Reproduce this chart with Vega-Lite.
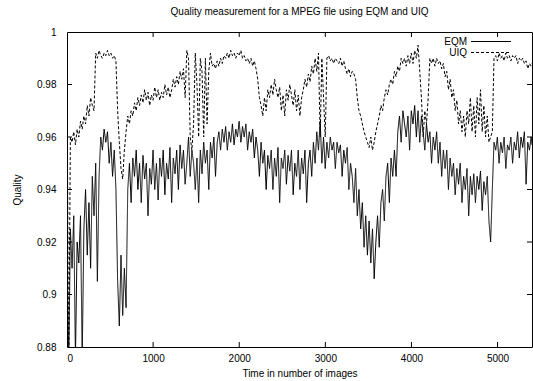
{
  "$schema": "https://vega.github.io/schema/vega-lite/v6.json",
  "autosize": {"type": "none"},
  "padding": {"left": 67, "top": 32, "right": 1, "bottom": 34},
  "width": 465,
  "height": 315,
  "title": {"text": "Quality measurement for a MPEG file using EQM and UIQ", "fontSize": 10, "fontWeight": "normal", "font": "Liberation Sans", "color": "black", "offset": 10, "anchor": "middle", "frame": "group"},
  "datasets": {
    "xticks": [{"v":1000,"from":0.88,"to":0.8819},{"v":2000,"from":0.88,"to":0.8819},{"v":3000,"from":0.88,"to":0.8819},{"v":4000,"from":0.88,"to":0.8819},{"v":5000,"from":0.88,"to":0.8819},{"v":1000,"from":1,"to":0.9981},{"v":2000,"from":1,"to":0.9981},{"v":3000,"from":1,"to":0.9981},{"v":4000,"from":1,"to":0.9981},{"v":5000,"from":1,"to":0.9981}],
    "yticks": [{"q":0.9,"from":0,"to":58},{"q":0.92,"from":0,"to":58},{"q":0.94,"from":0,"to":58},{"q":0.96,"from":0,"to":58},{"q":0.98,"from":0,"to":58},{"q":0.9,"from":5400,"to":5342},{"q":0.92,"from":5400,"to":5342},{"q":0.94,"from":5400,"to":5342},{"q":0.96,"from":5400,"to":5342},{"q":0.98,"from":5400,"to":5342}],
    "quality": [
{"t":0,"EQM":0.915,"UIQ":0.985},{"t":19.6,"EQM":0.87,"UIQ":0.87},{"t":39.2,"EQM":0.925,"UIQ":0.96},{"t":58.8,"EQM":0.91,"UIQ":0.958},{"t":78.4,"EQM":0.93,"UIQ":0.962},{"t":98,"EQM":0.875,"UIQ":0.957},{"t":117.6,"EQM":0.92,"UIQ":0.963},{"t":137.2,"EQM":0.912,"UIQ":0.96},{"t":156.8,"EQM":0.93,"UIQ":0.966},{"t":176.4,"EQM":0.875,"UIQ":0.963},
{"t":196,"EQM":0.925,"UIQ":0.968},{"t":215.6,"EQM":0.94,"UIQ":0.965},{"t":235.2,"EQM":0.915,"UIQ":0.972},{"t":254.8,"EQM":0.935,"UIQ":0.968},{"t":274.4,"EQM":0.91,"UIQ":0.975},{"t":294,"EQM":0.945,"UIQ":0.972},{"t":313.6,"EQM":0.93,"UIQ":0.97},{"t":333.2,"EQM":0.95,"UIQ":0.992},{"t":352.8,"EQM":0.905,"UIQ":0.99},{"t":372.4,"EQM":0.945,"UIQ":0.993},
{"t":392,"EQM":0.96,"UIQ":0.991},{"t":411.6,"EQM":0.955,"UIQ":0.99},{"t":431.2,"EQM":0.963,"UIQ":0.992},{"t":450.8,"EQM":0.958,"UIQ":0.991},{"t":470.4,"EQM":0.962,"UIQ":0.993},{"t":490,"EQM":0.95,"UIQ":0.991},{"t":509.6,"EQM":0.958,"UIQ":0.992},{"t":529.2,"EQM":0.945,"UIQ":0.99},{"t":548.8,"EQM":0.955,"UIQ":0.991},{"t":568.4,"EQM":0.94,"UIQ":0.989},
{"t":588,"EQM":0.905,"UIQ":0.97},{"t":607.6,"EQM":0.888,"UIQ":0.958},{"t":627.2,"EQM":0.915,"UIQ":0.948},{"t":646.8,"EQM":0.892,"UIQ":0.944},{"t":666.4,"EQM":0.91,"UIQ":0.955},{"t":686,"EQM":0.895,"UIQ":0.962},{"t":705.6,"EQM":0.94,"UIQ":0.968},{"t":725.2,"EQM":0.95,"UIQ":0.965},{"t":744.8,"EQM":0.935,"UIQ":0.97},{"t":764.4,"EQM":0.952,"UIQ":0.968},
{"t":784,"EQM":0.945,"UIQ":0.973},{"t":803.6,"EQM":0.955,"UIQ":0.97},{"t":823.2,"EQM":0.94,"UIQ":0.975},{"t":842.8,"EQM":0.95,"UIQ":0.972},{"t":862.4,"EQM":0.935,"UIQ":0.976},{"t":882,"EQM":0.953,"UIQ":0.973},{"t":901.6,"EQM":0.944,"UIQ":0.978},{"t":921.2,"EQM":0.95,"UIQ":0.974},{"t":940.8,"EQM":0.93,"UIQ":0.977},{"t":960.4,"EQM":0.948,"UIQ":0.972},
{"t":980,"EQM":0.942,"UIQ":0.976},{"t":999.6,"EQM":0.955,"UIQ":0.974},{"t":1019.2,"EQM":0.94,"UIQ":0.979},{"t":1038.8,"EQM":0.95,"UIQ":0.975},{"t":1058.4,"EQM":0.936,"UIQ":0.978},{"t":1078,"EQM":0.952,"UIQ":0.974},{"t":1097.6,"EQM":0.945,"UIQ":0.977},{"t":1117.2,"EQM":0.955,"UIQ":0.975},{"t":1136.8,"EQM":0.938,"UIQ":0.98},{"t":1156.4,"EQM":0.95,"UIQ":0.976},
{"t":1176,"EQM":0.944,"UIQ":0.979},{"t":1195.6,"EQM":0.956,"UIQ":0.975},{"t":1215.2,"EQM":0.935,"UIQ":0.978},{"t":1234.8,"EQM":0.952,"UIQ":0.982},{"t":1254.4,"EQM":0.946,"UIQ":0.979},{"t":1274,"EQM":0.955,"UIQ":0.983},{"t":1293.6,"EQM":0.94,"UIQ":0.98},{"t":1313.2,"EQM":0.957,"UIQ":0.985},{"t":1332.8,"EQM":0.948,"UIQ":0.982},{"t":1352.4,"EQM":0.955,"UIQ":0.986},
{"t":1372,"EQM":0.942,"UIQ":0.975},{"t":1391.6,"EQM":0.95,"UIQ":0.993},{"t":1411.2,"EQM":0.96,"UIQ":0.99},{"t":1430.8,"EQM":0.945,"UIQ":0.96},{"t":1450.4,"EQM":0.955,"UIQ":0.955},{"t":1470,"EQM":0.95,"UIQ":0.965},{"t":1489.6,"EQM":0.94,"UIQ":0.992},{"t":1509.2,"EQM":0.952,"UIQ":0.98},{"t":1528.8,"EQM":0.935,"UIQ":0.96},{"t":1548.4,"EQM":0.955,"UIQ":0.99},
{"t":1568,"EQM":0.946,"UIQ":0.985},{"t":1587.6,"EQM":0.958,"UIQ":0.96},{"t":1607.2,"EQM":0.95,"UIQ":0.99},{"t":1626.8,"EQM":0.955,"UIQ":0.965},{"t":1646.4,"EQM":0.94,"UIQ":0.985},{"t":1666,"EQM":0.958,"UIQ":0.992},{"t":1685.6,"EQM":0.952,"UIQ":0.987},{"t":1705.2,"EQM":0.96,"UIQ":0.988},{"t":1724.8,"EQM":0.945,"UIQ":0.986},{"t":1744.4,"EQM":0.958,"UIQ":0.989},
{"t":1764,"EQM":0.962,"UIQ":0.987},{"t":1783.6,"EQM":0.955,"UIQ":0.99},{"t":1803.2,"EQM":0.963,"UIQ":0.988},{"t":1822.8,"EQM":0.958,"UIQ":0.991},{"t":1842.4,"EQM":0.964,"UIQ":0.99},{"t":1862,"EQM":0.955,"UIQ":0.992},{"t":1881.6,"EQM":0.962,"UIQ":0.99},{"t":1901.2,"EQM":0.958,"UIQ":0.993},{"t":1920.8,"EQM":0.965,"UIQ":0.991},{"t":1940.4,"EQM":0.957,"UIQ":0.992},
{"t":1960,"EQM":0.963,"UIQ":0.99},{"t":1979.6,"EQM":0.96,"UIQ":0.992},{"t":1999.2,"EQM":0.966,"UIQ":0.991},{"t":2018.8,"EQM":0.958,"UIQ":0.993},{"t":2038.4,"EQM":0.964,"UIQ":0.99},{"t":2058,"EQM":0.96,"UIQ":0.991},{"t":2077.6,"EQM":0.965,"UIQ":0.989},{"t":2097.2,"EQM":0.955,"UIQ":0.99},{"t":2116.8,"EQM":0.962,"UIQ":0.988},{"t":2136.4,"EQM":0.958,"UIQ":0.99},
{"t":2156,"EQM":0.963,"UIQ":0.987},{"t":2175.6,"EQM":0.952,"UIQ":0.989},{"t":2195.2,"EQM":0.96,"UIQ":0.986},{"t":2214.8,"EQM":0.955,"UIQ":0.982},{"t":2234.4,"EQM":0.945,"UIQ":0.975},{"t":2254,"EQM":0.958,"UIQ":0.972},{"t":2273.6,"EQM":0.95,"UIQ":0.968},{"t":2293.2,"EQM":0.955,"UIQ":0.975},{"t":2312.8,"EQM":0.94,"UIQ":0.97},{"t":2332.4,"EQM":0.953,"UIQ":0.978},
{"t":2352,"EQM":0.948,"UIQ":0.975},{"t":2371.6,"EQM":0.955,"UIQ":0.98},{"t":2391.2,"EQM":0.94,"UIQ":0.976},{"t":2410.8,"EQM":0.952,"UIQ":0.982},{"t":2430.4,"EQM":0.945,"UIQ":0.978},{"t":2450,"EQM":0.956,"UIQ":0.975},{"t":2469.6,"EQM":0.935,"UIQ":0.979},{"t":2489.2,"EQM":0.952,"UIQ":0.97},{"t":2508.8,"EQM":0.948,"UIQ":0.976},{"t":2528.4,"EQM":0.955,"UIQ":0.968},
{"t":2548,"EQM":0.942,"UIQ":0.978},{"t":2567.6,"EQM":0.953,"UIQ":0.974},{"t":2587.2,"EQM":0.947,"UIQ":0.98},{"t":2606.8,"EQM":0.955,"UIQ":0.976},{"t":2626.4,"EQM":0.938,"UIQ":0.972},{"t":2646,"EQM":0.95,"UIQ":0.978},{"t":2665.6,"EQM":0.945,"UIQ":0.97},{"t":2685.2,"EQM":0.955,"UIQ":0.976},{"t":2704.8,"EQM":0.94,"UIQ":0.968},{"t":2724.4,"EQM":0.952,"UIQ":0.975},
{"t":2744,"EQM":0.946,"UIQ":0.978},{"t":2763.6,"EQM":0.955,"UIQ":0.982},{"t":2783.2,"EQM":0.935,"UIQ":0.979},{"t":2802.8,"EQM":0.95,"UIQ":0.984},{"t":2822.4,"EQM":0.955,"UIQ":0.981},{"t":2842,"EQM":0.945,"UIQ":0.987},{"t":2861.6,"EQM":0.958,"UIQ":0.984},{"t":2881.2,"EQM":0.95,"UIQ":0.99},{"t":2900.8,"EQM":0.962,"UIQ":0.985},{"t":2920.4,"EQM":0.955,"UIQ":0.992},
{"t":2940,"EQM":0.966,"UIQ":0.96},{"t":2959.6,"EQM":0.95,"UIQ":0.99},{"t":2979.2,"EQM":0.96,"UIQ":0.975},{"t":2998.8,"EQM":0.948,"UIQ":0.96},{"t":3018.4,"EQM":0.958,"UIQ":0.99},{"t":3038,"EQM":0.952,"UIQ":0.991},{"t":3057.6,"EQM":0.96,"UIQ":0.989},{"t":3077.2,"EQM":0.955,"UIQ":0.99},{"t":3096.8,"EQM":0.958,"UIQ":0.988},{"t":3116.4,"EQM":0.948,"UIQ":0.99},
{"t":3136,"EQM":0.958,"UIQ":0.989},{"t":3155.6,"EQM":0.954,"UIQ":0.988},{"t":3175.2,"EQM":0.957,"UIQ":0.99},{"t":3194.8,"EQM":0.945,"UIQ":0.987},{"t":3214.4,"EQM":0.955,"UIQ":0.989},{"t":3234,"EQM":0.95,"UIQ":0.986},{"t":3253.6,"EQM":0.956,"UIQ":0.984},{"t":3273.2,"EQM":0.94,"UIQ":0.986},{"t":3292.8,"EQM":0.95,"UIQ":0.983},{"t":3312.4,"EQM":0.945,"UIQ":0.985},
{"t":3332,"EQM":0.935,"UIQ":0.984},{"t":3351.6,"EQM":0.948,"UIQ":0.982},{"t":3371.2,"EQM":0.93,"UIQ":0.975},{"t":3390.8,"EQM":0.94,"UIQ":0.97},{"t":3410.4,"EQM":0.925,"UIQ":0.968},{"t":3430,"EQM":0.935,"UIQ":0.965},{"t":3449.6,"EQM":0.918,"UIQ":0.962},{"t":3469.2,"EQM":0.93,"UIQ":0.96},{"t":3488.8,"EQM":0.915,"UIQ":0.958},{"t":3508.4,"EQM":0.928,"UIQ":0.956},
{"t":3528,"EQM":0.912,"UIQ":0.96},{"t":3547.6,"EQM":0.925,"UIQ":0.955},{"t":3567.2,"EQM":0.906,"UIQ":0.958},{"t":3586.8,"EQM":0.92,"UIQ":0.962},{"t":3606.4,"EQM":0.93,"UIQ":0.965},{"t":3626,"EQM":0.918,"UIQ":0.968},{"t":3645.6,"EQM":0.935,"UIQ":0.972},{"t":3665.2,"EQM":0.94,"UIQ":0.97},{"t":3684.8,"EQM":0.928,"UIQ":0.975},{"t":3704.4,"EQM":0.945,"UIQ":0.978},
{"t":3724,"EQM":0.95,"UIQ":0.976},{"t":3743.6,"EQM":0.935,"UIQ":0.98},{"t":3763.2,"EQM":0.952,"UIQ":0.982},{"t":3782.8,"EQM":0.945,"UIQ":0.98},{"t":3802.4,"EQM":0.955,"UIQ":0.985},{"t":3822,"EQM":0.945,"UIQ":0.983},{"t":3841.6,"EQM":0.962,"UIQ":0.987},{"t":3861.2,"EQM":0.968,"UIQ":0.985},{"t":3880.8,"EQM":0.958,"UIQ":0.99},{"t":3900.4,"EQM":0.97,"UIQ":0.988},
{"t":3920,"EQM":0.965,"UIQ":0.99},{"t":3939.6,"EQM":0.96,"UIQ":0.987},{"t":3959.2,"EQM":0.968,"UIQ":0.991},{"t":3978.8,"EQM":0.955,"UIQ":0.988},{"t":3998.4,"EQM":0.97,"UIQ":0.992},{"t":4018,"EQM":0.965,"UIQ":0.988},{"t":4037.6,"EQM":0.972,"UIQ":0.993},{"t":4057.2,"EQM":0.96,"UIQ":0.99},{"t":4076.8,"EQM":0.97,"UIQ":0.995},{"t":4096.4,"EQM":0.958,"UIQ":0.985},
{"t":4116,"EQM":0.968,"UIQ":0.975},{"t":4135.6,"EQM":0.962,"UIQ":0.96},{"t":4155.2,"EQM":0.955,"UIQ":0.97},{"t":4174.8,"EQM":0.965,"UIQ":0.965},{"t":4194.4,"EQM":0.958,"UIQ":0.975},{"t":4214,"EQM":0.962,"UIQ":0.99},{"t":4233.6,"EQM":0.95,"UIQ":0.988},{"t":4253.2,"EQM":0.96,"UIQ":0.99},{"t":4272.8,"EQM":0.955,"UIQ":0.987},{"t":4292.4,"EQM":0.962,"UIQ":0.99},
{"t":4312,"EQM":0.95,"UIQ":0.988},{"t":4331.6,"EQM":0.958,"UIQ":0.989},{"t":4351.2,"EQM":0.945,"UIQ":0.986},{"t":4370.8,"EQM":0.955,"UIQ":0.988},{"t":4390.4,"EQM":0.948,"UIQ":0.983},{"t":4410,"EQM":0.955,"UIQ":0.985},{"t":4429.6,"EQM":0.94,"UIQ":0.978},{"t":4449.2,"EQM":0.952,"UIQ":0.982},{"t":4468.8,"EQM":0.945,"UIQ":0.975},{"t":4488.4,"EQM":0.95,"UIQ":0.978},
{"t":4508,"EQM":0.938,"UIQ":0.97},{"t":4527.6,"EQM":0.948,"UIQ":0.974},{"t":4547.2,"EQM":0.942,"UIQ":0.965},{"t":4566.8,"EQM":0.95,"UIQ":0.97},{"t":4586.4,"EQM":0.935,"UIQ":0.962},{"t":4606,"EQM":0.945,"UIQ":0.968},{"t":4625.6,"EQM":0.94,"UIQ":0.96},{"t":4645.2,"EQM":0.948,"UIQ":0.97},{"t":4664.8,"EQM":0.93,"UIQ":0.965},{"t":4684.4,"EQM":0.945,"UIQ":0.975},
{"t":4704,"EQM":0.938,"UIQ":0.962},{"t":4723.6,"EQM":0.946,"UIQ":0.972},{"t":4743.2,"EQM":0.935,"UIQ":0.96},{"t":4762.8,"EQM":0.945,"UIQ":0.975},{"t":4782.4,"EQM":0.94,"UIQ":0.965},{"t":4802,"EQM":0.947,"UIQ":0.978},{"t":4821.6,"EQM":0.932,"UIQ":0.962},{"t":4841.2,"EQM":0.943,"UIQ":0.972},{"t":4860.8,"EQM":0.938,"UIQ":0.96},{"t":4880.4,"EQM":0.945,"UIQ":0.968},
{"t":4900,"EQM":0.928,"UIQ":0.958},{"t":4919.6,"EQM":0.92,"UIQ":0.96},{"t":4939.2,"EQM":0.94,"UIQ":0.962},{"t":4958.8,"EQM":0.958,"UIQ":0.99},{"t":4978.4,"EQM":0.955,"UIQ":0.991},{"t":4998,"EQM":0.96,"UIQ":0.989},{"t":5017.6,"EQM":0.95,"UIQ":0.992},{"t":5037.2,"EQM":0.958,"UIQ":0.99},{"t":5056.8,"EQM":0.954,"UIQ":0.991},{"t":5076.4,"EQM":0.96,"UIQ":0.989},
{"t":5096,"EQM":0.948,"UIQ":0.992},{"t":5115.6,"EQM":0.957,"UIQ":0.99},{"t":5135.2,"EQM":0.955,"UIQ":0.991},{"t":5154.8,"EQM":0.96,"UIQ":0.989},{"t":5174.4,"EQM":0.95,"UIQ":0.991},{"t":5194,"EQM":0.958,"UIQ":0.99},{"t":5213.6,"EQM":0.955,"UIQ":0.991},{"t":5233.2,"EQM":0.962,"UIQ":0.988},{"t":5252.8,"EQM":0.952,"UIQ":0.99},{"t":5272.4,"EQM":0.96,"UIQ":0.989},
{"t":5292,"EQM":0.956,"UIQ":0.99},{"t":5311.6,"EQM":0.962,"UIQ":0.988},{"t":5331.2,"EQM":0.942,"UIQ":0.989},{"t":5350.8,"EQM":0.958,"UIQ":0.986},{"t":5370.4,"EQM":0.955,"UIQ":0.988},{"t":5390,"EQM":0.96,"UIQ":0.987},{"t":5400,"EQM":0.957,"UIQ":0.988}
    ]
  },
  "encoding": {
    "x": {"type": "quantitative", "scale": {"domain": [0, 5400], "nice": false, "zero": false},
          "axis": {"values": [0, 1000, 2000, 3000, 4000, 5000], "title": "Time in number of images", "format": "d", "orient": "bottom", "ticks": false, "labelPadding": 6, "titlePadding": 5}},
    "y": {"type": "quantitative", "scale": {"domain": [0.88, 1], "nice": false, "zero": false},
          "axis": {"values": [0.88, 0.9, 0.92, 0.94, 0.96, 0.98, 1], "title": "Quality", "format": ".2~f", "orient": "left", "ticks": false, "labelPadding": 11, "titlePadding": 14}}
  },
  "layer": [
    {
      "data": {"name": "quality"},
      "transform": [{"fold": ["EQM", "UIQ"], "as": ["series", "value"]}],
      "mark": {"type": "line", "color": "black", "strokeWidth": 1, "clip": true},
      "encoding": {
        "x": {"field": "t", "type": "quantitative"},
        "y": {"field": "value", "type": "quantitative"},
        "strokeDash": {"field": "series", "type": "nominal",
              "scale": {"domain": ["EQM", "UIQ"], "range": [[1, 0], [3, 2]]},
              "legend": {"title": null, "orient": "none", "legendX": 418.5, "legendY": 4, "symbolType": "M-4,0H4", "symbolSize": 100, "symbolStrokeWidth": 1, "symbolStrokeColor": "black", "symbolFillColor": "transparent", "labelAlign": "right", "labelOffset": -29.5, "labelFontSize": 10, "labelFont": "Liberation Sans", "labelColor": "black", "rowPadding": 0, "symbolLimit": 0}}
      }
    },
    {
      "data": {"name": "xticks"},
      "mark": {"type": "rule", "color": "black", "strokeWidth": 1, "opacity": 1},
      "encoding": {"x": {"field": "v", "type": "quantitative"}, "y": {"field": "from", "type": "quantitative"}, "y2": {"field": "to"}}
    },
    {
      "data": {"name": "yticks"},
      "mark": {"type": "rule", "color": "black", "strokeWidth": 1, "opacity": 1},
      "encoding": {"y": {"field": "q", "type": "quantitative"}, "x": {"field": "from", "type": "quantitative"}, "x2": {"field": "to"}}
    }
  ],
  "config": {
    "font": "Liberation Sans",
    "view": {"stroke": "black", "strokeWidth": 1},
    "axis": {"domain": false, "grid": false,
             "labelFont": "Liberation Sans", "labelFontSize": 10, "labelColor": "black",
             "titleFont": "Liberation Sans", "titleFontSize": 10, "titleFontWeight": "normal", "titleColor": "black"}
  }
}
